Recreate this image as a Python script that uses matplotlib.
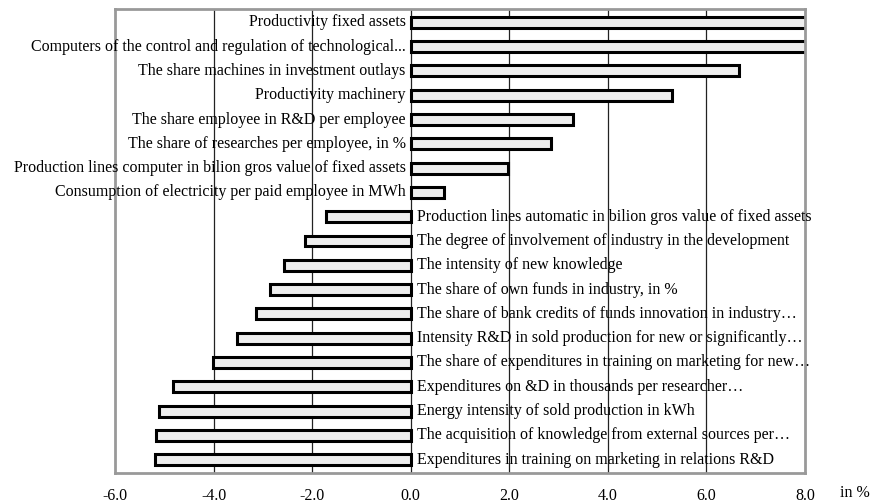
import numpy as np
import matplotlib.pyplot as plt

plt.rcParams['font.family'] = ['Liberation Serif', 'DejaVu Serif']

# indicators, top to bottom
labels = [
    "Productivity fixed assets",
    "Computers of the control and regulation of technological...",
    "The share machines in investment outlays",
    "Productivity machinery",
    "The share employee in R&D per employee",
    "The share of researches per employee, in %",
    "Production lines computer in bilion gros value of fixed assets",
    "Consumption of electricity per paid employee in MWh",
    "Production lines automatic in bilion gros value of fixed assets",
    "The degree of involvement of industry in the development",
    "The intensity of new knowledge",
    "The share of own funds in industry, in %",
    "The share of bank credits of funds innovation in industry\u2026",
    "Intensity R&D in sold production for new or significantly\u2026",
    "The share of expenditures in training on marketing for new\u2026",
    "Expenditures on &D in thousands per researcher\u2026",
    "Energy intensity of sold production in kWh",
    "The acquisition of knowledge from external sources per\u2026",
    "Expenditures in training on marketing in relations R&D",
]
# change in % (first two run off the axis)
values = [9.5, 9.0, 6.66, 5.3, 3.3, 2.84, 1.98, 0.67,
          -1.71, -2.14, -2.57, -2.85, -3.14, -3.53, -4.02,
          -4.83, -5.10, -5.16, -5.18]
xticks = [-6.0, -4.0, -2.0, 0.0, 2.0, 4.0, 6.0, 8.0]

fs = 11.5
fig = plt.figure(figsize=(8.84, 5.04), dpi=100)
ax = fig.add_axes([115/884, 1-473/504, 690/884, 464/504])

y = np.arange(len(labels))
for xv in xticks[1:-1]:
    ax.axvline(xv, color='#222222', lw=0.9, zorder=1)
ax.barh(y, values, height=0.45, color='#eeeeee', edgecolor='black',
        linewidth=2.2, zorder=2)

for yi, lab, v in zip(y, labels, values):
    if v >= 0:
        ax.text(-0.1, yi, lab, ha='right', va='center', fontsize=fs, zorder=3)
    else:
        ax.text(0.13, yi, lab, ha='left', va='center', fontsize=fs, zorder=3)

ax.set_xlim(-6, 8)
ax.set_ylim(len(labels) - 0.45, -0.55)
ax.set_yticks([])
ax.set_xticks(xticks)
ax.set_xticklabels(["%.1f" % t for t in xticks], fontsize=fs)
ax.tick_params(axis='x', length=0, pad=11)
for s in ax.spines.values():
    s.set_color('#999999')
    s.set_linewidth(2)
ax.text(855/884, 1-493/504, "in %", transform=fig.transFigure,
        ha='center', va='center', fontsize=fs)

fig.savefig("out.png", dpi=100)
